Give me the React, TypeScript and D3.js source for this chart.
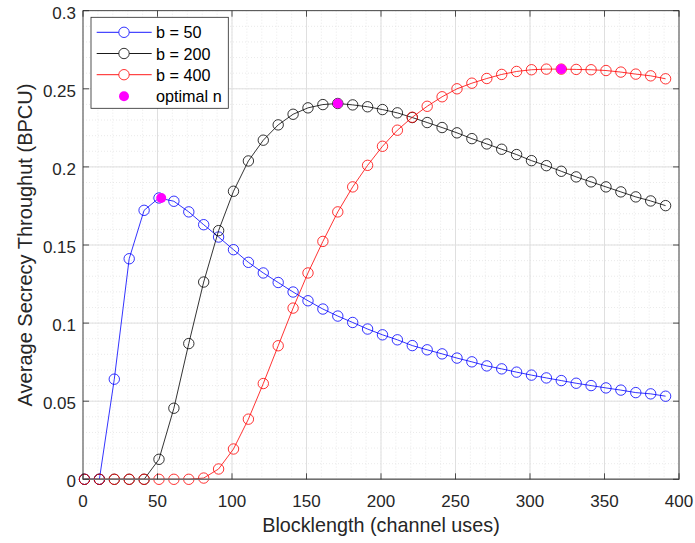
import React from "react";
import * as d3 from "d3";

const nValues = [1, 11, 21, 31, 41, 51, 61, 71, 81, 91, 101, 111, 121, 131, 141, 151, 161, 171, 181, 191, 201, 211, 221, 231, 241, 251, 261, 271, 281, 291, 301, 311, 321, 331, 341, 351, 361, 371, 381, 391];

const b50 = [0, 0, 0.0641, 0.1412, 0.1722, 0.1801, 0.178, 0.1712, 0.163, 0.1551, 0.147, 0.1389, 0.1321, 0.126, 0.1199, 0.1143, 0.109, 0.1045, 0.1004, 0.0962, 0.0925, 0.0893, 0.0856, 0.0829, 0.0803, 0.0776, 0.0752, 0.0726, 0.0707, 0.0686, 0.0667, 0.0649, 0.0632, 0.0615, 0.06, 0.0585, 0.0571, 0.0555, 0.0547, 0.0532];

const b200 = [0, 0, 0, 0, 0, 0.0128, 0.0455, 0.0869, 0.1263, 0.1592, 0.1844, 0.2038, 0.2171, 0.2269, 0.2337, 0.2378, 0.2399, 0.2406, 0.2397, 0.2385, 0.2367, 0.2346, 0.2316, 0.2284, 0.2252, 0.2218, 0.2181, 0.2147, 0.2113, 0.2079, 0.204, 0.2008, 0.1972, 0.1936, 0.1904, 0.1872, 0.184, 0.1808, 0.1782, 0.1752];

const b400 = [0, 0, 0, 0, 0, 0, 0, 0, 0.0008, 0.0066, 0.0194, 0.0385, 0.0613, 0.0855, 0.1096, 0.1321, 0.1523, 0.1712, 0.1872, 0.201, 0.2132, 0.2235, 0.2318, 0.2388, 0.2449, 0.25, 0.2536, 0.2566, 0.2592, 0.2611, 0.2622, 0.2626, 0.2626, 0.2624, 0.2622, 0.2617, 0.2607, 0.2594, 0.2583, 0.2564];

const optimalN = [52.5, 171, 321];
const optimalY = [0.1801, 0.2406, 0.2626];

const seriesNames = ["b = 50", "b = 200", "b = 400"];
const seriesColors = ["#0000ff", "#000000", "#ff0000"];
const seriesData = [b50, b200, b400];

const xTicks = [0, 50, 100, 150, 200, 250, 300, 350, 400];
const yTicks = [0, 0.05, 0.1, 0.15, 0.2, 0.25, 0.3];

const W = 695;
const H = 543;
const L = 83;
const R = 679;
const T = 10.7;
const B = 479.3;

export default function App() {
  const x = d3.scaleLinear().domain([0, 400]).range([L, R]);
  const y = d3.scaleLinear().domain([0, 0.3]).range([B, T]);
  const line = d3
    .line<[number, number]>()
    .x((d) => x(d[0]))
    .y((d) => y(d[1]));
  const xMinor = d3.range(0, 401, 10);
  const yMinor = d3.range(0, 0.3001, 0.01);
  const axisColor = "#262626";
  const font = "'Liberation Sans', Arial, Helvetica, sans-serif";
  const tickLen = 6;

  return (
    <svg
      width={W}
      height={H}
      style={{ position: "absolute", left: 0, top: 0, background: "#fff" }}
      fontFamily={font}
    >
      <rect x={0} y={0} width={W} height={H} fill="#fff" />
      {/* minor grid */}
      {xMinor.map((v) => (
        <line key={"xm" + v} x1={x(v)} x2={x(v)} y1={T} y2={B} stroke="#dcdcdc" strokeWidth={0.6} strokeDasharray="1,2" />
      ))}
      {yMinor.map((v, i) => (
        <line key={"ym" + i} x1={L} x2={R} y1={y(v)} y2={y(v)} stroke="#dcdcdc" strokeWidth={0.6} strokeDasharray="1,2" />
      ))}
      {/* major grid */}
      {xTicks.map((v) => (
        <line key={"xg" + v} x1={x(v)} x2={x(v)} y1={T} y2={B} stroke="#dfdfdf" strokeWidth={1} />
      ))}
      {yTicks.map((v) => (
        <line key={"yg" + v} x1={L} x2={R} y1={y(v)} y2={y(v)} stroke="#dfdfdf" strokeWidth={1} />
      ))}
      {/* series */}
      {seriesData.map((data, si) => {
        const pts = nValues.map((n, i) => [n, data[i]] as [number, number]);
        return (
          <g key={"s" + si}>
            <path d={line(pts) || ""} fill="none" stroke={seriesColors[si]} strokeWidth={0.8} />
            {pts.map((p, i) => (
              <circle key={i} cx={x(p[0])} cy={y(p[1])} r={5.2} fill="none" stroke={seriesColors[si]} strokeWidth={0.8} />
            ))}
          </g>
        );
      })}
      {optimalN.map((n, i) => (
        <circle key={"o" + i} cx={x(n)} cy={y(optimalY[i])} r={5} fill="#ff00ff" />
      ))}
      {/* axes box */}
      <rect x={L} y={T} width={R - L} height={B - T} fill="none" stroke={axisColor} strokeWidth={0.8} />
      <line x1={L} x2={R} y1={B} y2={B} stroke="#707070" strokeWidth={1.5} />
      {xTicks.map((v) => (
        <g key={"xt" + v}>
          <line x1={x(v)} x2={x(v)} y1={B} y2={B - tickLen} stroke={axisColor} strokeWidth={0.8} />
          <line x1={x(v)} x2={x(v)} y1={T} y2={T + tickLen} stroke={axisColor} strokeWidth={0.8} />
          <text x={x(v)} y={506.5} textAnchor="middle" fontSize={17} fill={axisColor}>
            {v}
          </text>
        </g>
      ))}
      {yTicks.map((v) => (
        <g key={"yt" + v}>
          <line x1={L} x2={L + tickLen} y1={y(v)} y2={y(v)} stroke={axisColor} strokeWidth={0.8} />
          <line x1={R} x2={R - tickLen} y1={y(v)} y2={y(v)} stroke={axisColor} strokeWidth={0.8} />
          <text x={L - 7} y={y(v) + 8} textAnchor="end" fontSize={17} fill={axisColor}>
            {String(v)}
          </text>
        </g>
      ))}
      <text x={(L + R) / 2} y={531.5} textAnchor="middle" fontSize={19.8} fill={axisColor}>
        Blocklength (channel uses)
      </text>
      <text
        transform={`translate(31.5, ${(T + B) / 2}) rotate(-90)`}
        textAnchor="middle"
        fontSize={20}
        fill={axisColor}
      >
        Average Secrecy Throughut (BPCU)
      </text>
      {/* legend */}
      <g>
        <rect x={91} y={17.3} width={137.3} height={91} fill="#fff" stroke={axisColor} strokeWidth={0.8} />
        {seriesNames.map((name, i) => {
          const ly = 32.3 + i * 21.2;
          return (
            <g key={"l" + i}>
              <line x1={96.7} x2={151.7} y1={ly} y2={ly} stroke={seriesColors[i]} strokeWidth={0.9} />
              <circle cx={124} cy={ly} r={5.2} fill="#fff" stroke={seriesColors[i]} strokeWidth={0.8} />
              <text x={156} y={ly + 6} fontSize={16.2} fill="#000">
                {name}
              </text>
            </g>
          );
        })}
        <circle cx={124} cy={96.3} r={5} fill="#ff00ff" />
        <text x={156} y={96.3 + 6} fontSize={16.2} fill="#000">
          optimal n
        </text>
      </g>
    </svg>
  );
}
